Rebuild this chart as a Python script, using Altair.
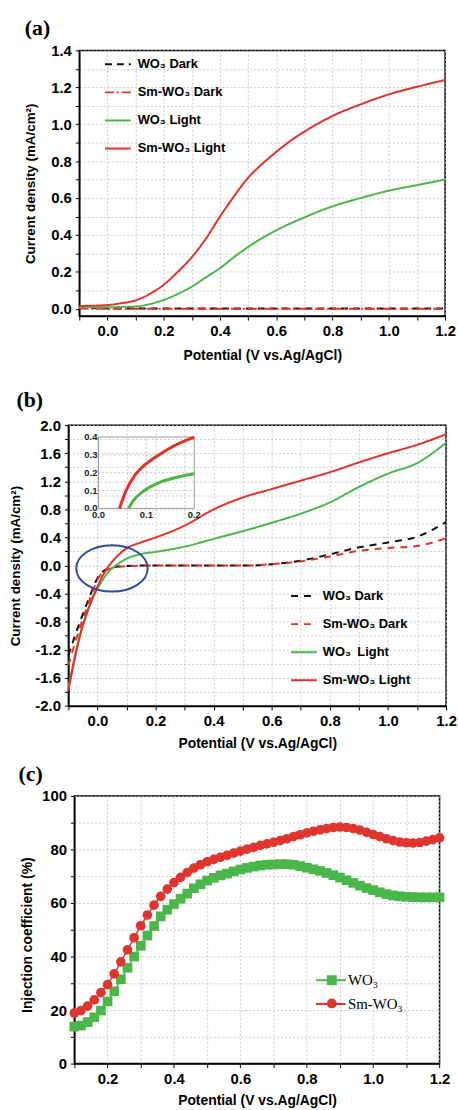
import altair as alt
import pandas as pd

FONT = "Liberation Sans"
SERIF = "Liberation Serif"
RED = "#e5302a"
GREEN = "#4cb648"
BLACK = "#111111"

# ---------------- panel (a) data ----------------
a_x_light = [-0.1, 0.0, 0.05, 0.1, 0.15, 0.2, 0.25, 0.3, 0.35, 0.4, 0.45, 0.5, 0.55, 0.6, 0.65, 0.7, 0.75, 0.8, 0.9, 1.0, 1.1, 1.2]
a_sm_light = [0.015, 0.02, 0.03, 0.045, 0.08, 0.13, 0.2, 0.28, 0.38, 0.5, 0.61, 0.71, 0.785, 0.85, 0.91, 0.96, 1.005, 1.045, 1.108, 1.162, 1.203, 1.24]
a_wo3_light = [0.008, 0.008, 0.01, 0.012, 0.025, 0.048, 0.08, 0.12, 0.17, 0.22, 0.28, 0.335, 0.383, 0.425, 0.462, 0.495, 0.527, 0.555, 0.6, 0.64, 0.67, 0.7]
a_x_dark = [-0.1, 0.1, 0.4, 0.7, 1.0, 1.2]
a_wo3_dark = [0.004, 0.002, 0.001, 0.001, 0.001, 0.001]
a_sm_dark = [0.001, 0.0, 0.0, 0.0, 0.0, 0.0]
A_NAMES = ["WO₃ Dark", "Sm-WO₃ Dark", "WO₃ Light", "Sm-WO₃ Light"]
A_COLORS = [BLACK, RED, GREEN, RED]
A_DASH = [[7, 5], [9, 3, 2, 3], [1, 0], [1, 0]]

# ---------------- panel (b) data ----------------
b_x = [-0.1, -0.08, -0.06, -0.04, -0.02, 0.0, 0.02, 0.04, 0.06, 0.08, 0.1, 0.15, 0.2, 0.3, 0.4, 0.5, 0.6, 0.7, 0.8, 0.9, 1.0, 1.1, 1.2]
b_wo3_dark = [-1.28, -1.03, -0.80, -0.58, -0.37, -0.18, -0.08, -0.04, -0.02, -0.01, -0.005, 0.0, 0.0, 0.0, 0.0, 0.0, 0.02, 0.07, 0.16, 0.26, 0.33, 0.41, 0.62]
b_sm_dark = [-1.42, -1.14, -0.88, -0.64, -0.41, -0.20, -0.09, -0.05, -0.03, -0.015, -0.01, 0.0, 0.0, 0.0, 0.0, 0.0, 0.02, 0.06, 0.13, 0.21, 0.25, 0.28, 0.39]
b_wo3_light = [-1.74, -1.33, -0.98, -0.72, -0.50, -0.33, -0.19, -0.08, -0.01, 0.05, 0.097, 0.165, 0.195, 0.27, 0.38, 0.49, 0.61, 0.74, 0.90, 1.12, 1.31, 1.46, 1.75]
b_sm_light = [-1.78, -1.36, -1.0, -0.72, -0.49, -0.30, -0.13, 0.0, 0.1, 0.18, 0.245, 0.33, 0.40, 0.57, 0.80, 0.97, 1.09, 1.21, 1.33, 1.47, 1.60, 1.72, 1.87]
B_NAMES = ["WO₃ Dark", "Sm-WO₃ Dark", "WO₃\u2002Light", "Sm-WO₃ Light"]
B_COLORS = [BLACK, RED, GREEN, RED]
B_DASH = [[7, 6], [7, 6], [1, 0], [1, 0]]
# inset of (b)
in_x_red = [0.044, 0.057, 0.077, 0.098, 0.126, 0.157, 0.2]
in_y_red = [0.0, 0.097, 0.19, 0.247, 0.30, 0.35, 0.4]
in_x_green = [0.063, 0.072, 0.094, 0.126, 0.16, 0.2]
in_y_green = [0.0, 0.041, 0.097, 0.144, 0.172, 0.194]
in_ylabels = [0.0, 0.1, 0.2, 0.3, 0.4]
in_xlabels = [0.0, 0.1, 0.2]
ellipse_center_x = [0.05]
ellipse_center_y = [-0.04]

# ---------------- panel (c) data ----------------
c_x = [0.10, 0.12, 0.14, 0.16, 0.18, 0.20, 0.22, 0.24, 0.26, 0.28, 0.30, 0.32, 0.34, 0.36, 0.38,
       0.40, 0.42, 0.44, 0.46, 0.48, 0.50, 0.52, 0.54, 0.56, 0.58, 0.60, 0.62, 0.64, 0.66, 0.68,
       0.70, 0.72, 0.74, 0.76, 0.78, 0.80, 0.82, 0.84, 0.86, 0.88, 0.90, 0.92, 0.94, 0.96, 0.98,
       1.00, 1.02, 1.04, 1.06, 1.08, 1.10, 1.12, 1.14, 1.16, 1.18, 1.20]
c_wo3 = [13.8, 14.2, 15.5, 17.3, 19.8, 23.2, 27.0, 31.5, 35.8, 40.0, 44.0, 47.8, 51.4, 55.0, 57.5,
         59.6, 61.6, 63.5, 65.5, 67.0, 68.4, 69.4, 70.3, 71.0, 71.8, 72.5, 73.1, 73.6, 74.0, 74.3,
         74.4, 74.5, 74.5, 74.3, 73.8, 73.2, 72.6, 72.0, 71.2, 70.4, 69.5, 68.5, 67.5, 66.5, 65.6,
         64.8, 64.0, 63.3, 62.8, 62.5, 62.3, 62.2, 62.1, 62.1, 62.1, 62.1]
c_sm = [18.9, 19.8, 21.5, 23.8, 26.5, 29.5, 33.5, 38.0, 42.5, 47.0, 51.5, 55.5, 59.2, 62.5, 65.2,
        67.6, 69.6, 71.4, 73.0, 74.3, 75.4, 76.3, 77.1, 77.8, 78.6, 79.4, 80.1, 80.8, 81.5, 82.1,
        82.7, 83.3, 84.0, 84.8, 85.5, 86.2, 86.8, 87.3, 87.8, 88.2, 88.4, 88.2, 87.8, 87.2, 86.4,
        85.6, 84.8, 84.0, 83.3, 82.8, 82.5, 82.4, 82.6, 83.1, 83.7, 84.3]
C_NAMES = ["WO₃", "Sm-WO₃"]
C_NAMES_P = ["WO₃\u200b", "Sm-WO₃\u200b"]
C_COLORS = ["#4bb649", "#e0352f"]

# tick values
x_ticks_ab = [-0.1, 0.0, 0.1, 0.2, 0.3, 0.4, 0.5, 0.6, 0.7, 0.8, 0.9, 1.0, 1.1, 1.2]
y_ticks_a = [0.0, 0.1, 0.2, 0.3, 0.4, 0.5, 0.6, 0.7, 0.8, 0.9, 1.0, 1.1, 1.2, 1.3, 1.4]
y_ticks_b = [-2.0, -1.8, -1.6, -1.4, -1.2, -1.0, -0.8, -0.6, -0.4, -0.2, 0.0, 0.2, 0.4, 0.6, 0.8,
             1.0, 1.2, 1.4, 1.6, 1.8, 2.0]
x_ticks_c = [0.1, 0.2, 0.3, 0.4, 0.5, 0.6, 0.7, 0.8, 0.9, 1.0, 1.1, 1.2]
y_ticks_c = [0, 10, 20, 30, 40, 50, 60, 70, 80, 90, 100]

EVEN_TENTH = "abs(round(datum.value*10)) % 2 == 0 ? format(datum.value, '.1f') : ''"
FOURTH_TENTH = "abs(round(datum.value*10)) % 4 == 0 ? replace(format(datum.value, '.1f'), '\u2212', '-') : ''"
TWENTY = "datum.value % 20 == 0 ? format(datum.value, 'd') : ''"
XTITLE = "Potential (V vs.Ag/AgCl)"
YTITLE = "Current density (mA/cm²)"

ELLIPSE = ("M -1 0 C -1 -0.359 -0.552 -0.65 0 -0.65 C 0.552 -0.65 1 -0.359 1 0 "
           "C 1 0.359 0.552 0.65 0 0.65 C -0.552 0.65 -1 0.359 -1 0 Z")

INDEP = dict(color="independent", strokeDash="independent", stroke="independent",
             fill="independent", shape="independent")


def xaxis(values, expr, title_y):
    return alt.Axis(values=values, labelExpr=expr, title=XTITLE, titleY=title_y, titleBaseline="middle",
                    labelOverlap=False, labelFlush=False, labelPadding=4, titleFontSize=14)


def yaxis(values, expr, title, tx, ty, fs):
    return alt.Axis(values=values, labelExpr=expr, title=title, titleX=tx, titleY=ty,
                    titleBaseline="middle", titleAngle=-90, labelOverlap=False, labelFlush=False,
                    labelPadding=4, titleFontSize=fs)


def anchor(left, top, bottom):
    return alt.Chart(pd.DataFrame({"k": [0]})).mark_rule(strokeOpacity=0, opacity=0).encode(
        x=alt.value(-left), x2=alt.value(-left), y=alt.value(-top), y2=alt.value(bottom))


def spacer():
    return alt.Chart(pd.DataFrame({"k": [0]})).mark_rule(strokeOpacity=0, opacity=0).encode(
        x=alt.value(0), x2=alt.value(0), y=alt.value(0), y2=alt.value(1)
    ).properties(width=1, height=1, view=alt.ViewBackground(stroke="transparent"))


def panel_label(txt, dx, dy):
    return alt.Chart(pd.DataFrame({"t": [txt]})).mark_text(
        font=SERIF, fontSize=22, fontWeight="bold", align="left", baseline="middle", color="black"
    ).encode(text="t:N", x=alt.value(dx), y=alt.value(dy))


def long_df(xs_list, ys_list, names):
    rows = []
    for xs, ys, n in zip(xs_list, ys_list, names):
        for xv, yv in zip(xs, ys):
            rows.append({"x": xv, "y": yv, "series": n})
    return pd.DataFrame(rows)


def line_legend(lx, ly, loff, rp):
    return alt.Legend(orient="none", legendX=lx, legendY=ly, title=None, symbolType="stroke",
                      symbolSize=676, symbolStrokeWidth=2, labelFont=FONT, labelFontSize=13,
                      labelFontWeight="bold", labelOffset=loff, rowPadding=rp, padding=0,
                      labelLimit=0, labelColor="black")


# ================= panel (a) =================
WA, HA = 369, 268
df_a = long_df([a_x_dark, a_x_dark, a_x_light, a_x_light],
               [a_wo3_dark, a_sm_dark, a_wo3_light, a_sm_light], A_NAMES)
leg_a = line_legend(24.9, 0, 6, 7.3)
lines_a = alt.Chart(df_a).mark_line(strokeWidth=2, interpolate="monotone").encode(
    x=alt.X("x:Q", scale=alt.Scale(domain=[-0.1, 1.2], nice=False, zero=False),
            axis=xaxis(x_ticks_ab, EVEN_TENTH, 40)),
    y=alt.Y("y:Q", scale=alt.Scale(domain=[-0.04, 1.4], nice=False, zero=False),
            axis=yaxis(y_ticks_a, EVEN_TENTH, YTITLE, -49, HA / 2, 13.5)),
    color=alt.Color("series:N", scale=alt.Scale(domain=A_NAMES, range=A_COLORS), sort=A_NAMES, legend=leg_a),
    strokeDash=alt.StrokeDash("series:N", scale=alt.Scale(domain=A_NAMES, range=A_DASH), sort=A_NAMES, legend=leg_a),
)
chart_a = alt.layer(lines_a, anchor(76, 45, 325), panel_label("(a)", -55, -23)).properties(width=WA, height=HA)

# ================= panel (b) =================
WB, HB = 381, 283.3
df_b = long_df([b_x] * 4, [b_wo3_dark, b_sm_dark, b_wo3_light, b_sm_light], B_NAMES)
leg_b = line_legend(223.6, 158.4, 5, 7.3)
XB = alt.Scale(domain=[-0.1, 1.2], nice=False, zero=False)
YB = alt.Scale(domain=[-2.0, 2.0], nice=False, zero=False)
AXB = xaxis(x_ticks_ab, EVEN_TENTH, 38)
AYB = yaxis(y_ticks_b, FOURTH_TENTH, YTITLE, -53.5, HB / 2, 13.5)
lines_b = alt.Chart(df_b).mark_line(strokeWidth=2, interpolate="monotone").encode(
    x=alt.X("x:Q", scale=XB, axis=AXB),
    y=alt.Y("y:Q", scale=YB, axis=AYB),
    color=alt.Color("series:N", scale=alt.Scale(domain=B_NAMES, range=B_COLORS), sort=B_NAMES, legend=leg_b),
    strokeDash=alt.StrokeDash("series:N", scale=alt.Scale(domain=B_NAMES, range=B_DASH), sort=B_NAMES, legend=leg_b),
)
ellipse_b = alt.Chart(pd.DataFrame({"x": ellipse_center_x, "y": ellipse_center_y})).mark_point(
    shape=ELLIPSE, size=5184, filled=False, color="#2c4c9c", strokeWidth=2, opacity=1
).encode(x=alt.X("x:Q", scale=XB, axis=AXB), y=alt.Y("y:Q", scale=YB, axis=AYB))
main_b = alt.layer(lines_b, ellipse_b, anchor(65, 51, 330), panel_label("(b)", -52.4, -25.7))

IX = alt.Scale(domain=[0, 0.2], range=[30.3, 127], nice=False, zero=False)
IY = alt.Scale(domain=[0, 0.4], range=[84, 12], nice=False, zero=False)
box_df = pd.DataFrame({"x0": [in_xlabels[0]], "x1": [in_xlabels[-1]], "y0": [in_ylabels[0]], "y1": [in_ylabels[-1]]})
inset_vgrid = alt.Chart(pd.DataFrame({"gx": [0.1], "y0": [0.0], "y1": [0.4]})).mark_rule(
    color="#b8b8b8", strokeDash=[2, 2], strokeWidth=0.8).encode(
    x=alt.X("gx:Q", scale=IX, axis=None), y=alt.Y("y0:Q", scale=IY, axis=None), y2="y1:Q")
inset_hgrid = alt.Chart(pd.DataFrame({"gy": [0.1, 0.2, 0.3], "x0": [0.0] * 3, "x1": [0.2] * 3})).mark_rule(
    color="#b8b8b8", strokeDash=[2, 2], strokeWidth=0.8).encode(
    y=alt.Y("gy:Q", scale=IY, axis=None), x=alt.X("x0:Q", scale=IX, axis=None), x2="x1:Q")
inset_box = alt.Chart(box_df).mark_rect(fillOpacity=0, stroke="#9a9a9a", strokeWidth=1).encode(
    x=alt.X("x0:Q", scale=IX, axis=None), x2="x1:Q",
    y=alt.Y("y0:Q", scale=IY, axis=None), y2="y1:Q")
inset_red = alt.Chart(pd.DataFrame({"ix": in_x_red, "iy": in_y_red})).mark_line(
    color=RED, strokeWidth=3, interpolate="monotone").encode(
    x=alt.X("ix:Q", scale=IX, axis=None), y=alt.Y("iy:Q", scale=IY, axis=None))
inset_green = alt.Chart(pd.DataFrame({"ix": in_x_green, "iy": in_y_green})).mark_line(
    color=GREEN, strokeWidth=3, interpolate="monotone").encode(
    x=alt.X("ix:Q", scale=IX, axis=None), y=alt.Y("iy:Q", scale=IY, axis=None))
inset_ylab = alt.Chart(pd.DataFrame({"v": in_ylabels, "x0": [0.0] * 5})).mark_text(
    font=FONT, fontSize=9.5, fontWeight="bold", align="right", baseline="middle", dx=-1, color="#222").encode(
    x=alt.X("x0:Q", scale=IX, axis=None), y=alt.Y("v:Q", scale=IY, axis=None),
    text=alt.Text("v:Q", format=".1f"))
inset_xlab = alt.Chart(pd.DataFrame({"v": in_xlabels, "y0": [0.0] * 3})).mark_text(
    font=FONT, fontSize=9.5, fontWeight="bold", align="center", baseline="top", dy=2, color="#222").encode(
    x=alt.X("v:Q", scale=IX, axis=None), y=alt.Y("y0:Q", scale=IY, axis=None),
    text=alt.Text("v:Q", format=".1f"))
inset_b = alt.layer(inset_vgrid, inset_hgrid, inset_box, inset_red, inset_green, inset_ylab, inset_xlab)
chart_b = alt.layer(main_b, inset_b).resolve_scale(x="independent", y="independent").properties(width=WB, height=HB)

# ================= panel (c) =================
WC, HC = 368.4, 270
df_c = long_df([c_x, c_x], [c_wo3, c_sm], C_NAMES)
df_c["series_p"] = df_c["series"].map(dict(zip(C_NAMES, C_NAMES_P)))
XC = alt.Scale(domain=[0.1, 1.2], nice=False, zero=False)
YC = alt.Scale(domain=[0, 100], nice=False)
AXC = xaxis(x_ticks_c, EVEN_TENTH, 37.3)
AYC = yaxis(y_ticks_c, TWENTY, "Injection coefficient (%)", -47.3, HC / 2 + 5, 14)
leg_c_line = alt.Legend(orient="none", legendX=242.7, legendY=169.9, title=None, symbolType="stroke",
                        symbolSize=900, symbolStrokeWidth=2, labelFont=SERIF, labelFontSize=15,
                        labelOffset=1.3, rowPadding=-1.6, padding=0, labelLimit=0, labelColor="black")
leg_c_pt = alt.Legend(orient="none", legendX=252.2, legendY=178.4, title=None, symbolSize=100,
                      symbolStrokeWidth=0, labelFont=SERIF, labelFontSize=15, labelExpr="''",
                      rowPadding=7.4, padding=0, labelLimit=0)
line_c = alt.Chart(df_c).mark_line(strokeWidth=1.5).encode(
    x=alt.X("x:Q", scale=XC, axis=AXC),
    y=alt.Y("y:Q", scale=YC, axis=AYC),
    stroke=alt.Stroke("series:N", scale=alt.Scale(domain=C_NAMES, range=C_COLORS), sort=C_NAMES, legend=leg_c_line),
)
pts_c = alt.Chart(df_c).mark_point(filled=True, size=95, opacity=1).encode(
    x=alt.X("x:Q", scale=XC, axis=AXC), y=alt.Y("y:Q", scale=YC, axis=AYC),
    fill=alt.Fill("series_p:N", scale=alt.Scale(domain=C_NAMES_P, range=C_COLORS), sort=C_NAMES_P, legend=leg_c_pt),
    shape=alt.Shape("series_p:N", scale=alt.Scale(domain=C_NAMES_P, range=["square", "circle"]), sort=C_NAMES_P, legend=leg_c_pt),
)
chart_c = alt.layer(line_c, pts_c, anchor(71, 42, 317), panel_label("(c)", -56.3, -22.2)).properties(width=WC, height=HC)

# ================= layout =================
row_a = alt.hconcat(spacer(), chart_a, spacing=0).resolve_scale(**INDEP).resolve_legend(**INDEP)
row_b = alt.hconcat(spacer(), chart_b, spacing=0).resolve_scale(**INDEP).resolve_legend(**INDEP)
row_c = alt.hconcat(spacer(), chart_c, spacing=0).resolve_scale(**INDEP).resolve_legend(**INDEP)

chart = alt.vconcat(row_a, row_b, row_c, spacing=0).resolve_scale(**INDEP).resolve_legend(**INDEP).properties(
    padding=0, background="white"
).configure_axis(
    labelFont=FONT, labelFontSize=15, labelFontWeight="bold", labelColor="black",
    titleFont=FONT, titleFontSize=13, titleFontWeight="bold", titleColor="black",
    tickColor="black", tickSize=4, tickWidth=1, domainColor="black", domainWidth=1.5,
    gridColor="#bdbdbd", gridDash=[2, 2], gridWidth=0.8, grid=True
).configure_view(stroke="black", strokeWidth=1.5).configure_legend(padding=0)

chart.save("out.html", embed_options={"renderer": "svg", "actions": False})
